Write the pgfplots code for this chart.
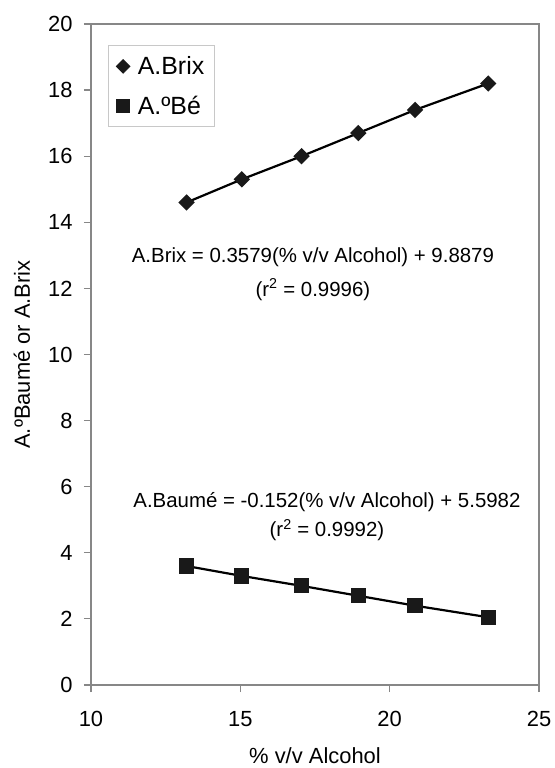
\documentclass[border=0pt]{standalone}
\usepackage{pgfplots}
\pgfplotsset{compat=1.18}
\usepackage{fontspec}
\setmainfont{Liberation Sans}
\definecolor{framegray}{RGB}{135,135,135}
\definecolor{markblack}{RGB}{25,25,25}
\begin{document}
\begin{tikzpicture}
\useasboundingbox (0,0) rectangle (555bp,768bp);
\begin{axis}[
  at={(91bp,83bp)}, anchor=south west,
  scale only axis, width=448bp, height=661bp,
  xmin=10, xmax=25, ymin=0, ymax=20,
  xtick={10,15,20,25}, ytick={0,2,...,20},
  tick align=outside, xtick pos=left, ytick pos=left,
  major tick length=7bp,
  axis line style={framegray, line width=2bp},
  every tick/.style={framegray, line width=1.2bp},
  /pgf/number format/assume math mode=true,
  ticklabel style={font=\fontsize{22}{26}\selectfont},
  xticklabel style={yshift=-16bp},
  yticklabel style={xshift=-8bp},
  xlabel={\% v/v Alcohol},
  ylabel={A.ºBaumé or A.Brix},
  label style={font=\fontsize{22}{26}\selectfont},
  xlabel style={at={(axis description cs:0.5,-0.107)}, anchor=center},
  ylabel style={at={(axis description cs:-0.154,0.5)}, anchor=center},
  legend style={at={(axis description cs:0.038,0.968)}, anchor=north west,
    draw={rgb,255:red,200;green,200;blue,200}, line width=1bp,
    font=\fontsize{25}{29}\selectfont,
    row sep=16bp, inner xsep=8bp, inner ysep=9bp,
    nodes={inner xsep=2bp},
    /tikz/every odd column/.append style={column sep=6bp}},
  legend cell align=left,
  legend image code/.code={\draw[#1] plot coordinates {(0bp,0bp)};},
]
\addlegendimage{only marks, mark=square*, mark size=4.7bp, mark options={rotate=45, fill=markblack, draw=markblack}}
\addlegendentry{A.Brix}
\addlegendimage{only marks, mark=square*, mark size=6.5bp, mark options={fill=markblack, draw=markblack}}
\addlegendentry{A.ºBé}
\addplot[forget plot, black, line width=2.2bp, mark=square*, mark size=4.7bp,
  mark options={rotate=45, fill=markblack, draw=markblack, solid}]
  coordinates {(13.2,14.6) (15.05,15.3) (17.05,16.0) (18.95,16.7) (20.85,17.4) (23.3,18.2)};
\addplot[forget plot, black, line width=2.2bp, mark=square*, mark size=6.5bp,
  mark options={fill=markblack, draw=markblack, solid}]
  coordinates {(13.2,3.6) (15.05,3.3) (17.05,3.0) (18.95,2.7) (20.85,2.4) (23.3,2.05)};
\node[font=\fontsize{20.5}{24}\selectfont] at (axis cs:17.43,12.95) {A.Brix = 0.3579(\% v/v Alcohol) + 9.8879};
\node[font=\fontsize{20.5}{24}\selectfont] at (axis cs:17.43,11.97) {(r\textsuperscript{2} = 0.9996)};
\node[font=\fontsize{20.5}{24}\selectfont] at (axis cs:17.9,5.54) {A.Baumé = -0.152(\% v/v Alcohol) + 5.5982};
\node[font=\fontsize{20.5}{24}\selectfont] at (axis cs:17.9,4.69) {(r\textsuperscript{2} = 0.9992)};
\end{axis}
\end{tikzpicture}
\end{document}
